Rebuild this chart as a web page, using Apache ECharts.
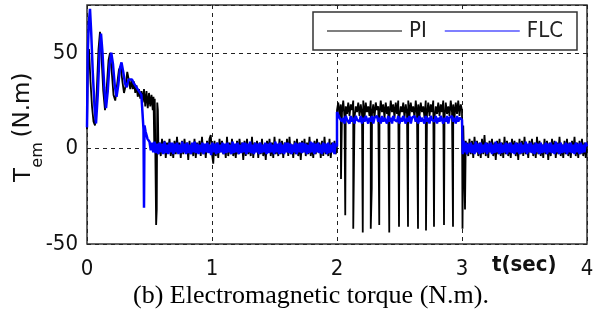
<!DOCTYPE html>
<html>
<head>
<meta charset="utf-8">
<script src="https://cdn.jsdelivr.net/npm/echarts@6/dist/echarts.min.js"></script>
<style>
  html, body { margin: 0; padding: 0; background: #fff; }
  #chart { width: 606px; height: 320px; }
</style>
</head>
<body>
<div id="chart"></div>
<script>
// tick labels
const xTicks = [0, 1, 2, 3, 4];
const yTicks = [-50, 0, 50];

// PI (black): start-up transient, read as [t, Tem]
const piStart = [[0,10],[0.008,48],[0.016,52],[0.028,35],[0.04,22],[0.052,14],[0.064,12],[0.078,30],[0.092,52],[0.104,61],
  [0.116,48],[0.13,30],[0.144,20],[0.158,32],[0.172,46],[0.184,50],[0.198,40],[0.212,28],[0.226,25],[0.24,33],
  [0.255,41],[0.27,43],[0.283,35],[0.296,29],[0.31,33],[0.322,40],[0.334,36],[0.346,31],[0.356,36],[0.366,31],
  [0.376,35],[0.386,29],[0.396,33],[0.406,27],[0.416,31],[0.426,26],[0.436,30],[0.446,24],[0.456,31],[0.466,22],
  [0.476,30],[0.486,21],[0.496,29],[0.506,22],[0.516,28],[0.526,20],[0.532,27],[0.538,2],[0.542,26],[0.548,-10],
  [0.553,-40],[0.558,-32],[0.562,24],[0.567,20],[0.572,-3]];
// PI steady state 0.58 .. 2.0 s (0.01 s samples)
const piRest1 = [
  3,-4,5,-2,4,-5,3,-1,5,-4,2,-5,4,-3,6,-2,3,-5,4,-3,
  5,-2,3,-6,4,-3,2,-4,5,-5,3,-2,4,-4,6,-3,2,-5,4,-2,
  5,7,-3,-8,4,-4,3,-5,5,-2,4,-3,2,-5,6,-4,3,-3,5,-4,
  2,-5,4,-3,5,-2,3,-6,4,-4,5,-3,2,-4,6,-5,3,-2,4,-5,
  3,-3,5,-4,2,-6,4,-2,5,-4,3,-5,6,-3,2,-4,5,-3,4,-5,
  3,-2,5,-4,6,-3,2,-5,4,-3,5,-4,3,-6,4,-2,5,-4,3,-3,
  6,-4,2,-5,4,-3,5,-2,3,-5,4,-4,6,-3,2,-4,5,-5,3,-2,
  4,-3,1];
// PI under load 2.0 .. 3.0 s
const piLoad = [
  20,24,17,23,19,25,16,22,18,24,17,23,20,25,16,22,19,24,17,23,
  18,25,16,24,19,22,17,25,18,23,16,24,20,22,17,25,19,23,16,24,
  18,22,17,25,19,23,16,24,18,25,17,22,19,24,16,23,18,25,17,24,
  19,22,16,25,18,23,17,24,19,22,16,25,18,24,17,23,19,25,16,22,
  18,24,17,23,19,25,16,24,18,22,17,25,19,23,16,24,18,25,17,23,
  20];
const piSpikes = [[2.032,-16],[2.066,-35],[2.13,-42],[2.206,-44],[2.27,-42],[2.278,-21],[2.338,-40],[2.418,-44],
  [2.496,-41],[2.568,-41],[2.648,-42],[2.712,-43],[2.776,-41],[2.856,-40],[2.928,-41]];
const piDrop = [[3.0,20],[3.004,-42],[3.01,12],[3.016,-5],[3.024,-32],[3.03,4],[3.036,-3]];
// PI after load removal 3.04 .. 4.0 s
const piRest2 = [
  3,-4,5,-3,4,-5,6,-2,4,-4,3,-5,5,-3,7,-4,3,-5,4,-2,
  5,-4,3,-6,4,-3,5,-4,3,-5,6,-3,4,-4,3,-5,5,-2,4,-4,
  3,-6,5,-3,4,-4,6,-3,2,-5,4,-2,5,-4,3,-5,6,-3,4,-4,
  2,-5,5,-3,4,-6,3,-4,5,-2,4,-5,3,-3,6,-4,2,-5,4,-3,
  5,-4,3,-5,4,-2,6,-4,3,-5,4,-3,5,-4,3,-5,2];

// FLC (blue)
const flcStart = [[0,11],[0.006,50],[0.014,65],[0.024,73],[0.034,60],[0.046,40],[0.06,22],[0.072,13],[0.086,28],[0.1,50],
  [0.112,60],[0.124,50],[0.138,32],[0.152,21],[0.166,30],[0.18,44],[0.194,50],[0.208,44],[0.222,33],[0.236,27],
  [0.25,33],[0.264,42],[0.276,45],[0.29,40],[0.304,34],[0.318,32],[0.332,36],[0.346,37],[0.36,36],[0.375,34],
  [0.39,33],[0.405,31],[0.42,30],[0.435,28],[0.448,27],[0.452,10],[0.456,-31],[0.46,12],[0.468,9],[0.476,7],
  [0.484,5],[0.492,4],[0.5,3.5],[0.51,-1]];
const flcRest1 = [
  3,-2,3.5,-2.5,2.5,-3,3,-2,2.5,-3,3.5,-2.5,2,-3,3,-2,3,-3,2.5,-2,
  3,-3,2,-2.5,3.5,-2,2.5,-3,3,-2.5,2,-3,3,-2,3.5,-2.5,2.5,-3,2,-2,
  3,-3,2.5,-2,3,-2.5,2,-3.5,3,-2,2.5,-3,3,-2.5,2,-2,3,-3,2.5,-2.5,
  3,-2,2,-3,3.5,-2.5,2.5,-2,3,-3,2,-2.5,3,-2,3,-3,2.5,-2,3.5,-2.5,
  2,-3,3,-2,2.5,-3,3,-2.5,2,-2,3,-3,2.5,-2.5,3,-2,2,-3,3.5,-2,
  2.5,-3,3,-2.5,2,-3,3,-2,3,-2.5,2.5,-3,2,-2,3,-3,2.5,-2,3,-2.5,
  3,-2,2.5,-3,2,-2.5,3.5,-2,3,-3,2.5,-2,3,-2.5,2,-3,3,-2,2.5,-3,
  3,-2.5,2,-2,3,-3,2.5,1];
const flcLoad = [
  19,18,16,17,14,16,13,17,15,16,13,17,14,16,13,17,15,16,14,17,
  13,16,14,17,15,13,16,14,17,13,16,15,17,14,16,13,17,14,16,15,
  13,17,14,16,13,17,15,16,14,17,13,16,14,17,15,13,16,14,17,13,
  16,15,17,14,16,13,17,14,16,15,13,17,14,16,13,17,15,16,14,17,
  13,16,14,17,15,13,16,14,17,13,16,15,17,14,16,13,17,14,16,15,
  15];
const flcDrop = [[3.0,15],[3.006,-3],[3.012,4]];
const flcRest2 = [
  -2,3,-3,2.5,-2,3,-2.5,2,-3,3.5,-2,2.5,-3,3,-2.5,2,-2,3,-3,2.5,
  -2,3,-3,2,-2.5,3.5,-2,2.5,-3,3,-2.5,2,-2,3,-3,2.5,-2,3,-2.5,2,
  -3,3,-2,2.5,-3,3,-2.5,2,-2,3.5,-3,2.5,-2,3,-2.5,2,-3,3,-2,2.5,
  -3,3,-2.5,2,-2,3,-3,2.5,-2,3,-2.5,2,-3,3.5,-2,2.5,-3,3,-2.5,2,
  -2,3,-3,2.5,-2,3,-2.5,2,-3,3,-2,2.5,-3,3,-2.5,2,-2,3,1];

// spread sampled values evenly over [t0, t1]
function seg(values, t0, t1) {
    const step = (t1 - t0) / (values.length - 1);
    return values.map((v, i) => [t0 + i * step, v]);
}

const piData = [].concat(
    piStart,
    seg(piRest1, 0.58, 2.0),
    seg(piLoad, 2.0, 3.0).concat(piSpikes).sort((a, b) => a[0] - b[0]),
    piDrop,
    seg(piRest2, 3.04, 4.0)
);
const flcData = [].concat(
    flcStart,
    seg(flcRest1, 0.52, 2.0),
    seg(flcLoad, 2.0, 3.0),
    flcDrop,
    seg(flcRest2, 3.02, 4.0)
);

const FONT = 'DejaVu Sans Condensed';
const chart = echarts.init(document.getElementById('chart'));

const option = {
    animation: false,
    grid: {
        left: 87, right: 19, top: 5, bottom: 76,
        show: true,
        borderColor: '#333',
        borderWidth: 1.5,
    },
    legend: {
        left: 313,
        top: 12,
        padding: [8, 14, 8, 14],
        icon: 'rect',
        itemWidth: 75,
        itemHeight: 1.2,
        itemGap: 18,
        borderColor: '#333',
        borderWidth: 1.5,
        borderRadius: 0,
        backgroundColor: '#fff',
        data: ['PI', 'FLC'],
        textStyle: { fontFamily: FONT, fontSize: 22, color: '#222', padding: [0, 0, 0, 2] },
    },
    xAxis: {
        type: 'value',
        min: xTicks[0],
        max: xTicks[xTicks.length - 1],
        interval: 1,
        axisLine: { show: false },
        axisTick: { show: false },
        axisLabel: {
            margin: 14,
            fontFamily: FONT,
            fontSize: 22,
            color: '#111',
            formatter: v => (xTicks.includes(v) ? String(v) : ''),
        },
        splitLine: { show: true, lineStyle: { color: '#222', type: [4, 4], width: 1 } },
    },
    yAxis: {
        type: 'value',
        min: -50,
        max: 75,
        interval: 50,
        axisLine: { show: false },
        axisTick: { show: false },
        axisLabel: {
            margin: 9,
            fontFamily: FONT,
            fontSize: 22,
            color: '#111',
            formatter: v => (yTicks.includes(v) ? String(v) : ''),
        },
        splitLine: { show: true, lineStyle: { color: '#222', type: [4, 4], width: 1 } },
    },
    graphic: [
        { type: 'text', x: 492, y: 254, style: { text: 't(sec)', font: 'bold 22px ' + FONT, fill: '#111' } },
        { type: 'text', x: 24, y: 175, rotation: Math.PI / 2,
          style: { text: 'T', font: '23px DejaVu Sans', fill: '#111', align: 'center', verticalAlign: 'middle' } },
        { type: 'text', x: 38, y: 155, rotation: Math.PI / 2,
          style: { text: 'em', font: '16px DejaVu Sans', fill: '#111', align: 'center', verticalAlign: 'middle' } },
        { type: 'text', x: 23, y: 105, rotation: Math.PI / 2,
          style: { text: '(N.m)', font: '23px DejaVu Sans', fill: '#111', align: 'center', verticalAlign: 'middle' } },
        { type: 'text', x: 311, y: 296,
          style: { text: '(b) Electromagnetic torque (N.m).', font: '26px Liberation Serif', fill: '#000',
                   align: 'center', verticalAlign: 'middle' } },
    ],
    series: [
        {
            name: 'PI',
            type: 'line',
            data: piData,
            symbol: 'none',
            sampling: 'none',
            lineStyle: { color: '#000', width: 1.8 },
            itemStyle: { color: '#000' },
        },
        {
            name: 'FLC',
            type: 'line',
            data: flcData,
            symbol: 'none',
            sampling: 'none',
            lineStyle: { color: '#0000ff', width: 2.5 },
            itemStyle: { color: '#0000ff' },
        },
    ],
};

chart.setOption(option);
</script>
</body>
</html>
